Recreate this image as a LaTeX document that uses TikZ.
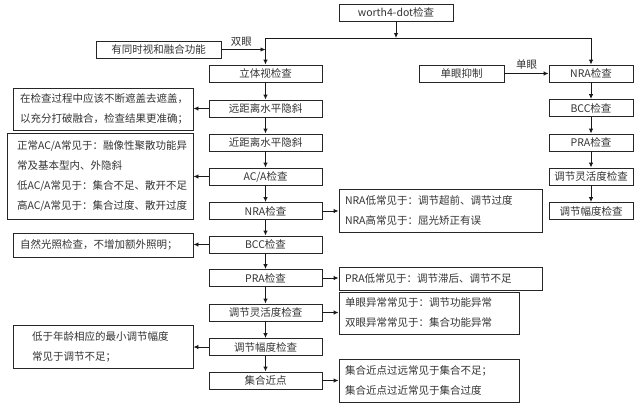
\documentclass[tikz,border=0pt]{standalone}
\usepackage{fontspec}
\setmainfont{Noto Sans CJK SC}
\usetikzlibrary{arrows.meta}
\begin{document}
\begin{tikzpicture}[x=1pt,y=-1pt,
  font=\fontsize{10.5}{20}\selectfont,
  box/.style={draw=black!85, line width=0.9pt, text=black!80, inner sep=0pt, minimum height=17pt},
  mainbox/.style={box, minimum width=113pt},
  rbox/.style={box, minimum width=84pt},
  note/.style={box, align=left},
  arr/.style={draw=black!90, line width=0.9pt, -{Latex[length=5pt,width=4.5pt]}},
  ln/.style={draw=black!90, line width=0.9pt},
  lab/.style={text=black!80, inner sep=1pt}]
\useasboundingbox (0,0) rectangle (643,408);

% top
\node[box, minimum width=114pt] (w) at (396,12.5) {worth4-dot检查};
\coordinate (split) at (396,38);
\coordinate (lt) at (265.5,38);
\coordinate (rt) at (591,38);
\coordinate (j1) at (265.5,49.5);

% main column
\node[mainbox] (b1) at (265.5,73.5) {立体视检查};
\node[mainbox] (b2) at (265.5,108.5) {远距离水平隐斜};
\node[mainbox] (b3) at (265.5,142.5) {近距离水平隐斜};
\node[mainbox] (b4) at (265.5,176.5) {AC/A检查};
\node[mainbox] (b5) at (265.5,211) {NRA检查};
\node[mainbox] (b6) at (265.5,244.5) {BCC检查};
\node[mainbox] (b7) at (265.5,278) {PRA检查};
\node[mainbox] (b8) at (265.5,312.5) {调节灵活度检查};
\node[mainbox] (b9) at (265.5,347) {调节幅度检查};
\node[mainbox] (b10) at (265.5,380.5) {集合近点};

% right column
\node[rbox] (r1) at (591,73.5) {NRA检查};
\node[rbox] (r2) at (591,108) {BCC检查};
\node[rbox] (r3) at (591,142.5) {PRA检查};
\node[rbox] (r4) at (591,176.5) {调节灵活度检查};
\node[rbox] (r5) at (591,211) {调节幅度检查};

% side boxes
\node[box, minimum width=125pt] (s1) at (158.5,49.5) {有同时视和融合功能};
\node[box, minimum width=85pt] (s2) at (461.5,73.5) {单眼抑制};

% notes left
\node[note, minimum width=180pt, minimum height=42pt, inner xsep=7pt, text width=166pt] (n1) at (103,109)
  {在检查过程中应该不断遮盖去遮盖，\\以充分打破融合，检查结果更准确；};
\node[note, minimum width=186pt, minimum height=86pt, inner xsep=10pt, text width=166pt] (n2) at (100,176)
  {正常AC/A常见于：融像性聚散功能异\\常及基本型内、外隐斜\\低AC/A常见于：集合不足、散开不足\\高AC/A常见于：集合过度、散开过度};
\node[note, minimum width=180pt, minimum height=24pt, inner xsep=7pt, text width=166pt] (n3) at (103,245)
  {自然光照检查，不增加额外照明；};
\node[note, minimum width=180pt, minimum height=43pt, inner xsep=19pt, text width=142pt] (n4) at (103,346.5)
  {低于年龄相应的最小调节幅度\\常见于调节不足；};

% notes right
\node[note, minimum width=203pt, minimum height=43pt, inner xsep=6pt, text width=191pt] (n5) at (440.5,210.5)
  {NRA低常见于：调节超前、调节过度\\NRA高常见于：屈光矫正有误};
\node[note, minimum width=203pt, minimum height=23pt, inner xsep=6pt, text width=191pt] (n6) at (440.5,278.5)
  {PRA低常见于：调节滞后、调节不足};
\node[note, minimum width=180pt, minimum height=42pt, inner xsep=6pt, text width=168pt] (n7) at (429,313)
  {单眼异常常见于：调节功能异常\\双眼异常常见于：集合功能异常};
\node[note, minimum width=180pt, minimum height=43pt, inner xsep=6pt, text width=168pt] (n8) at (429,380.5)
  {集合近点过远常见于集合不足；\\集合近点过近常见于集合过度};

% connectors top
\draw[arr] (w.south) -- (split);
\draw[ln] (lt) -- (rt);
\draw[arr] (lt) -- (b1.north);
\draw[arr] (rt) -- (r1.north);
\draw[arr] (s1.east) -- node[lab, above=2pt, pos=0.45] {双眼} (j1);
\draw[arr] (s2.east) -- node[lab, above=3pt] {单眼} (r1.west);

% main chain
\foreach \a/\b in {b1/b2,b2/b3,b3/b4,b4/b5,b5/b6,b6/b7,b7/b8,b8/b9,b9/b10}
  \draw[arr] (\a.south) -- (\b.north);
\foreach \a/\b in {r1/r2,r2/r3,r3/r4,r4/r5}
  \draw[arr] (\a.south) -- (\b.north);

% side arrows
\draw[arr] (b2.west) -- (n1.east |- b2.west);
\draw[arr] (b4.west) -- (n2.east |- b4.west);
\draw[arr] (b6.west) -- (n3.east |- b6.west);
\draw[arr] (b9.west) -- (n4.east |- b9.west);
\draw[arr] (b5.east) -- (n5.west |- b5.east);
\draw[arr] (b7.east) -- (n6.west |- b7.east);
\draw[arr] (b8.east) -- (n7.west |- b8.east);
\draw[arr] (b10.east) -- (n8.west |- b10.east);
\end{tikzpicture}
\end{document}
